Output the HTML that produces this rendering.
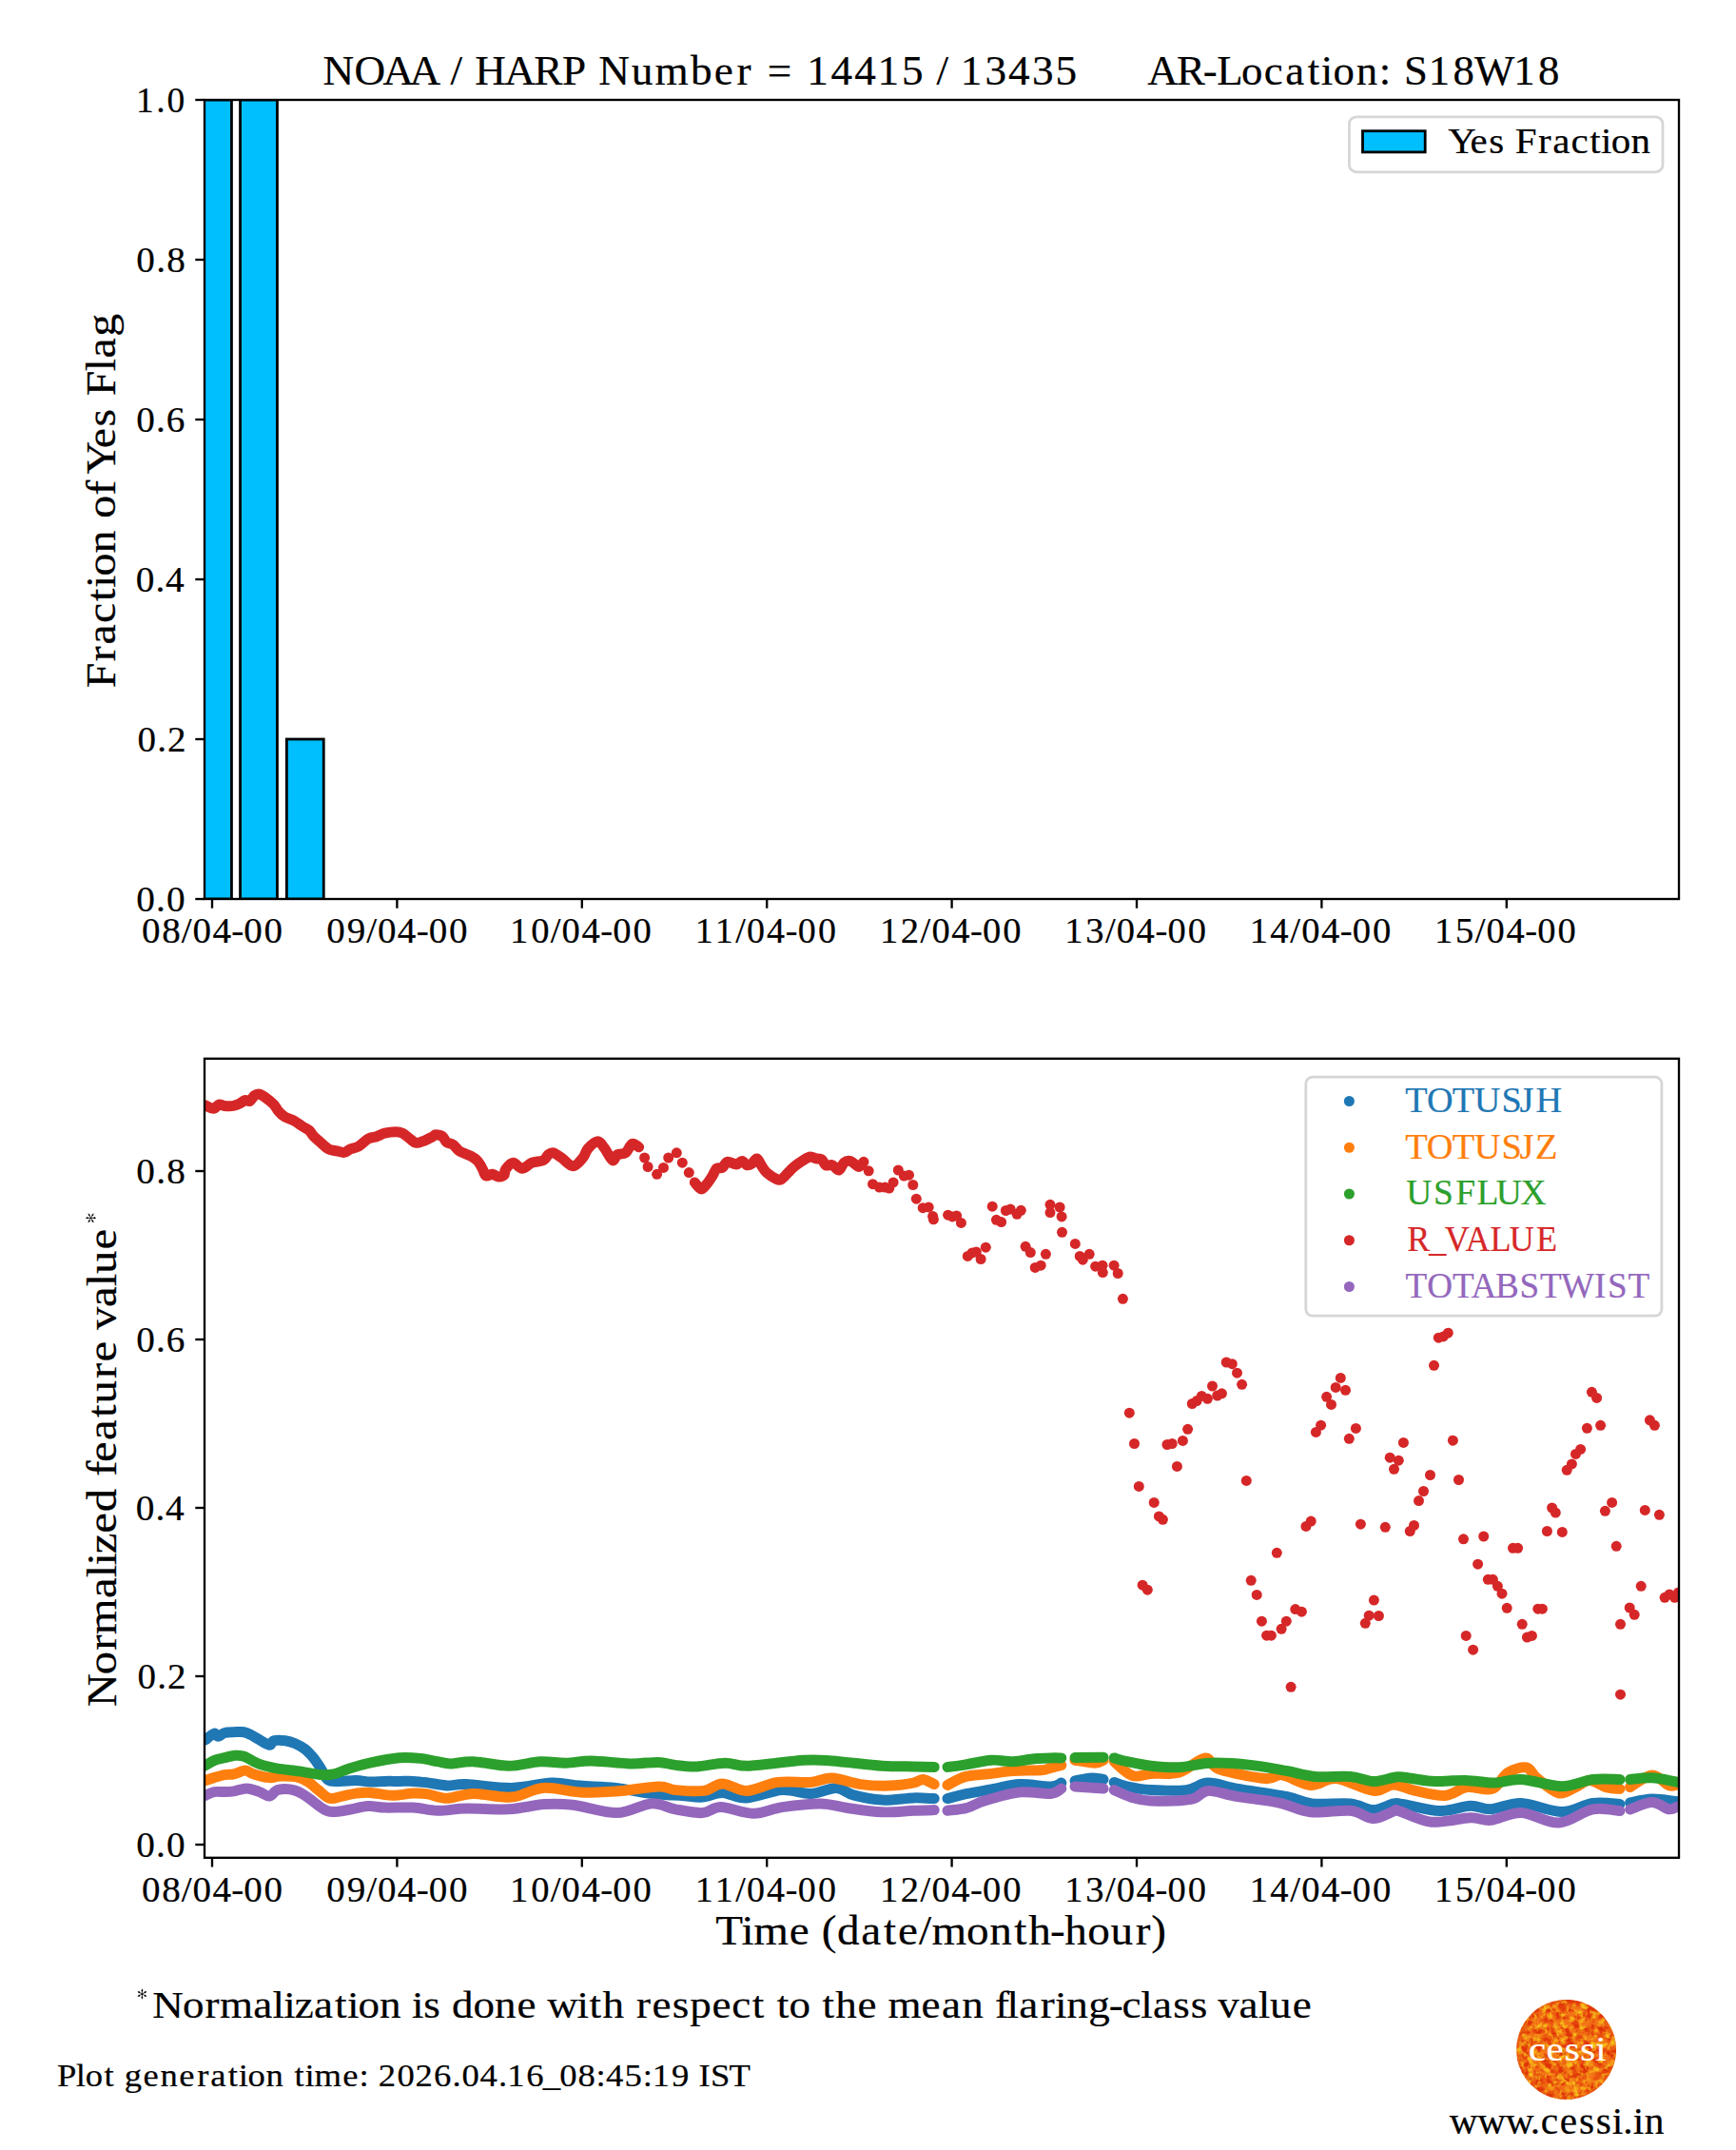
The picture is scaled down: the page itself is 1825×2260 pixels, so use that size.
<!DOCTYPE html>
<html><head><meta charset="utf-8"><title>NOAA / HARP 14415 / 13435</title>
<style>html,body{margin:0;padding:0;background:#fff;width:1825px;height:2260px;overflow:hidden}</style>
</head><body>
<svg width="1825" height="2260" viewBox="0 0 1825 2260" style="display:block">
<rect width="1825" height="2260" fill="#fff"/>
<defs>
<clipPath id="ax1"><rect x="215" y="105" width="1550" height="840"/></clipPath>
<clipPath id="ax2"><rect x="215" y="1112.8" width="1550" height="840"/></clipPath>
<clipPath id="sun"><circle cx="1646.6" cy="2154.5" r="52.4"/></clipPath>
<filter id="turbR" x="0" y="0" width="100%" height="100%" color-interpolation-filters="sRGB">
<feTurbulence type="fractalNoise" baseFrequency="0.13" numOctaves="4" seed="3"/>
<feColorMatrix type="matrix" values="0 0 0 0 0.88  0 0 0 0 0.20  0 0 0 0 0.03  4.0 0 0 0 -1.6"/>
</filter>
<filter id="turbY" x="0" y="0" width="100%" height="100%" color-interpolation-filters="sRGB">
<feTurbulence type="fractalNoise" baseFrequency="0.15" numOctaves="4" seed="11"/>
<feColorMatrix type="matrix" values="0 0 0 0 0.97  0 0 0 0 0.74  0 0 0 0 0.10  0 3.4 0 0 -1.55"/>
</filter>
<radialGradient id="sung" cx="50%" cy="50%" r="50%">
<stop offset="0" stop-color="#f47a16"/><stop offset="0.85" stop-color="#f27014"/><stop offset="1" stop-color="#e85a12"/>
</radialGradient>
</defs>
<g font-family="'Liberation Serif', serif" style="font-kerning:none" stroke-width="0.22">
<g clip-path="url(#ax1)">
<rect x="204.55" y="105.00" width="38.90" height="840.00" fill="#00bfff" stroke="#000" stroke-width="2.8"/>
<rect x="252.55" y="105.00" width="38.90" height="840.00" fill="#00bfff" stroke="#000" stroke-width="2.8"/>
<rect x="301.35" y="777.00" width="38.90" height="168.00" fill="#00bfff" stroke="#000" stroke-width="2.8"/>
</g>
<rect x="215" y="105" width="1550" height="840" fill="none" stroke="#000" stroke-width="2.35" stroke-linejoin="miter" stroke-linecap="square"/>
<line x1="223.00" y1="945" x2="223.00" y2="954.70" stroke="#000" stroke-width="2.35"/>
<text transform="translate(150.34,990.80) scale(1.0515,1)" x="-1.30 18.87 38.43 49.72 69.51 88.42 100.77 120.94" y="0" font-size="37.17" fill="#000" stroke="#000">08/04-00</text>
<line x1="417.40" y1="945" x2="417.40" y2="954.70" stroke="#000" stroke-width="2.35"/>
<text transform="translate(344.74,990.80) scale(1.0516,1)" x="-1.31 18.96 38.42 49.71 69.50 88.41 100.75 120.92" y="0" font-size="37.17" fill="#000" stroke="#000">09/04-00</text>
<line x1="611.80" y1="945" x2="611.80" y2="954.70" stroke="#000" stroke-width="2.35"/>
<text transform="translate(540.07,990.80) scale(1.0380,1)" x="-3.83 17.43 37.19 48.68 68.73 87.84 100.39 120.82" y="0" font-size="37.17" fill="#000" stroke="#000">10/04-00</text>
<line x1="806.20" y1="945" x2="806.20" y2="954.70" stroke="#000" stroke-width="2.35"/>
<text transform="translate(734.47,990.80) scale(1.0233,1)" x="-3.75 16.98 37.80 49.51 69.85 89.19 101.96 122.69" y="0" font-size="37.17" fill="#000" stroke="#000">11/04-00</text>
<line x1="1000.60" y1="945" x2="1000.60" y2="954.70" stroke="#000" stroke-width="2.35"/>
<text transform="translate(928.87,990.80) scale(1.0359,1)" x="-3.82 17.21 37.27 48.80 68.89 88.03 100.61 121.09" y="0" font-size="37.17" fill="#000" stroke="#000">12/04-00</text>
<line x1="1195.00" y1="945" x2="1195.00" y2="954.70" stroke="#000" stroke-width="2.35"/>
<text transform="translate(1123.27,990.80) scale(1.0363,1)" x="-3.83 17.35 37.26 48.77 68.85 87.99 100.57 121.03" y="0" font-size="37.17" fill="#000" stroke="#000">13/04-00</text>
<line x1="1389.40" y1="945" x2="1389.40" y2="954.70" stroke="#000" stroke-width="2.35"/>
<text transform="translate(1317.67,990.80) scale(1.0391,1)" x="-3.84 17.02 37.14 48.62 68.65 87.74 100.27 120.68" y="0" font-size="37.17" fill="#000" stroke="#000">14/04-00</text>
<line x1="1583.80" y1="945" x2="1583.80" y2="954.70" stroke="#000" stroke-width="2.35"/>
<text transform="translate(1512.07,990.80) scale(1.0364,1)" x="-3.83 17.25 37.25 48.77 68.85 87.99 100.56 121.02" y="0" font-size="37.17" fill="#000" stroke="#000">15/04-00</text>
<line x1="205.30" y1="945" x2="215" y2="945" stroke="#000" stroke-width="2.35"/>
<text transform="translate(144.70,957.90) scale(1.0565,1)" x="-1.34 18.37 28.76" y="0" font-size="37.17" fill="#000" stroke="#000">0.0</text>
<line x1="205.30" y1="777" x2="215" y2="777" stroke="#000" stroke-width="2.35"/>
<text transform="translate(145.76,789.90) scale(1.0501,1)" x="-1.29 18.51 28.73" y="0" font-size="37.17" fill="#000" stroke="#000">0.2</text>
<line x1="205.30" y1="609" x2="215" y2="609" stroke="#000" stroke-width="2.35"/>
<text transform="translate(144.16,621.90) scale(1.0591,1)" x="-1.36 18.31 28.29" y="0" font-size="37.17" fill="#000" stroke="#000">0.4</text>
<line x1="205.30" y1="441" x2="215" y2="441" stroke="#000" stroke-width="2.35"/>
<text transform="translate(144.59,453.90) scale(1.0550,1)" x="-1.33 18.40 28.64" y="0" font-size="37.17" fill="#000" stroke="#000">0.6</text>
<line x1="205.30" y1="273" x2="215" y2="273" stroke="#000" stroke-width="2.35"/>
<text transform="translate(144.73,285.90) scale(1.0547,1)" x="-1.33 18.41 28.83" y="0" font-size="37.17" fill="#000" stroke="#000">0.8</text>
<line x1="205.30" y1="105" x2="215" y2="105" stroke="#000" stroke-width="2.35"/>
<text transform="translate(146.57,117.90) scale(1.0090,1)" x="-3.66 17.60 28.70" y="0" font-size="37.17" fill="#000" stroke="#000">1.0</text>
<text transform="translate(120.80,721.80) rotate(-90) scale(1.1050,1)" x="-1.40 24.06 40.08 60.43 81.33 93.93 105.14 127.05 148.73 160.18 181.94 196.38 202.06 226.71 247.41 264.29 276.63 300.09 312.54 333.01" y="0" font-size="43.36" fill="#000" stroke="#000">Fraction of Yes Flag</text>
<text transform="translate(340.70,88.90) scale(1.0452,1)" x="-1.20 30.37 59.07 85.94 117.20 127.06 139.09 151.78 181.45 210.94 239.59 263.66 275.98 308.98 332.74 368.68 392.29 415.12 429.53 445.98 470.39 485.66 509.86 533.53 556.68 581.06 602.70 616.06 628.09 640.21 664.70 688.08 712.05 735.61" y="0" font-size="43.28" fill="#000" stroke="#000">NOAA / HARP Number = 14415 / 13435</text>
<text transform="translate(1208.00,88.90) scale(1.0345,1)" x="-1.81 27.98 54.80 68.90 93.82 116.81 138.56 161.29 174.75 187.05 210.47 233.79 245.82 258.96 283.94 308.82 330.56 370.41 395.30" y="0" font-size="43.28" fill="#000" stroke="#000">AR-Location: S18W18</text>
<rect x="1418.4" y="122.9" width="329.6" height="57.9" rx="7.5" ry="7.5" fill="#fff" fill-opacity="0.8" stroke="#d6d6d6" stroke-width="2.8"/>
<rect x="1432.5" y="137.7" width="65.7" height="22.2" fill="#00bfff" stroke="#000" stroke-width="2.8"/>
<text transform="translate(1525.40,160.80) scale(1.1021,1)" x="-2.87 18.30 36.09 50.55 61.21 83.08 96.85 114.33 132.29 143.12 152.76 171.59" y="0" font-size="37.17" fill="#000" stroke="#000">Yes Fraction</text>
<g clip-path="url(#ax2)" fill="none" stroke-linecap="round" stroke-linejoin="round">
<path d="M216.0,1828.9 C217.5,1827.8 222.8,1822.8 225.0,1822.2 C227.2,1821.6 227.6,1825.3 229.5,1825.2 C231.4,1825.1 233.5,1822.2 236.2,1821.5 C238.9,1820.8 242.5,1820.8 245.9,1820.7 C249.3,1820.6 253.4,1820.2 256.4,1820.7 C259.4,1821.2 261.1,1822.3 263.9,1823.7 C266.6,1825.1 269.6,1827.2 272.9,1828.9 C276.1,1830.7 280.9,1834.1 283.4,1834.2 C285.9,1834.3 285.1,1830.5 287.9,1829.7 C290.6,1829.0 296.2,1829.2 299.9,1829.7 C303.6,1830.2 306.8,1831.2 310.3,1832.7 C313.8,1834.2 317.8,1836.5 320.8,1838.7 C323.8,1841.0 326.3,1844.0 328.3,1846.2 C330.3,1848.5 331.3,1850.1 332.8,1852.2 C334.3,1854.3 335.3,1855.8 337.3,1858.9 C339.3,1862.0 341.6,1868.7 344.8,1870.9 C348.1,1873.2 351.8,1872.3 356.8,1872.4 C361.8,1872.5 369.2,1871.5 374.7,1871.6 C380.2,1871.7 384.7,1873.0 389.7,1873.1 C394.7,1873.2 399.7,1872.5 404.7,1872.4 C409.7,1872.3 414.7,1872.4 419.7,1872.4 C424.7,1872.4 429.6,1872.2 434.6,1872.4 C439.6,1872.7 443.7,1873.2 449.6,1873.9 C455.5,1874.7 463.3,1876.6 470.0,1876.9 C476.7,1877.2 478.7,1875.2 490.0,1875.6 C501.3,1876.0 522.9,1879.7 537.9,1879.4 C552.9,1879.2 567.8,1874.5 579.8,1874.1 C591.8,1873.7 598.6,1876.2 609.8,1877.1 C621.0,1878.0 634.7,1878.0 647.2,1879.4 C659.7,1880.8 674.6,1884.2 684.6,1885.4 C694.6,1886.7 701.2,1886.5 707.1,1886.9 C713.0,1887.3 714.8,1887.4 720.0,1887.8 C725.2,1888.2 731.9,1889.6 738.5,1889.1 C745.1,1888.6 751.7,1884.5 759.4,1884.6 C767.1,1884.7 774.4,1890.4 784.9,1889.9 C795.4,1889.4 811.1,1882.3 822.3,1881.6 C833.5,1880.8 842.8,1885.8 852.3,1885.4 C861.8,1885.0 871.7,1879.2 879.2,1879.4 C886.7,1879.7 889.2,1884.8 897.2,1886.9 C905.2,1889.0 916.7,1891.6 927.2,1892.1 C937.7,1892.6 950.8,1890.2 960.0,1889.9 C969.2,1889.7 978.5,1890.5 982.2,1890.6" stroke="#1f77b4" stroke-width="11.0"/>
<path d="M996.0,1890.6 C999.5,1889.7 1009.2,1887.0 1016.9,1885.4 C1024.6,1883.8 1033.2,1882.5 1042.4,1880.9 C1051.6,1879.3 1062.0,1876.1 1072.3,1875.6 C1082.6,1875.1 1097.2,1878.2 1104.5,1877.9 C1111.8,1877.7 1113.9,1874.7 1115.8,1874.1" stroke="#1f77b4" stroke-width="11.0"/>
<path d="M1130.0,1871.9 C1132.9,1871.4 1142.2,1869.2 1147.2,1868.9 C1152.2,1868.7 1157.9,1870.2 1160.0,1870.4" stroke="#1f77b4" stroke-width="11.0"/>
<path d="M1171.2,1873.4 C1173.4,1874.2 1178.1,1876.5 1184.6,1877.9 C1191.1,1879.3 1199.5,1881.0 1210.0,1881.6 C1220.5,1882.2 1237.4,1882.8 1247.4,1881.6 C1257.4,1880.3 1261.2,1874.3 1269.9,1874.1 C1278.7,1873.8 1286.2,1877.7 1299.9,1880.1 C1313.6,1882.5 1339.1,1885.8 1352.3,1888.4 C1365.5,1891.0 1368.0,1894.7 1379.2,1895.9 C1390.4,1897.2 1409.0,1894.8 1419.7,1895.9 C1430.4,1897.0 1436.0,1902.6 1443.6,1902.6 C1451.1,1902.6 1459.9,1897.0 1465.0,1896.0 C1470.1,1895.0 1466.2,1895.1 1474.3,1896.4 C1482.4,1897.7 1501.7,1903.3 1513.6,1903.6 C1525.5,1903.9 1536.8,1898.5 1545.7,1898.2 C1554.6,1897.9 1558.2,1902.2 1567.1,1901.8 C1576.0,1901.3 1586.8,1895.0 1599.3,1895.5 C1611.8,1896.0 1629.6,1904.5 1642.1,1904.5 C1654.6,1904.5 1664.2,1896.8 1674.3,1895.5 C1684.4,1894.2 1698.1,1896.2 1702.9,1896.4" stroke="#1f77b4" stroke-width="11.0"/>
<path d="M1713.6,1895.0 C1717.5,1894.3 1728.5,1891.3 1736.8,1891.1 C1745.1,1890.9 1758.1,1893.3 1763.6,1893.8 C1769.1,1894.3 1768.9,1894.0 1770.0,1894.0" stroke="#1f77b4" stroke-width="11.0"/>
<path d="M216.0,1871.6 C217.5,1871.1 221.6,1869.6 225.0,1868.6 C228.4,1867.6 232.7,1866.2 236.2,1865.6 C239.7,1865.0 242.3,1865.7 245.9,1864.9 C249.5,1864.2 254.4,1861.1 257.9,1861.1 C261.4,1861.1 262.6,1863.7 266.9,1864.9 C271.1,1866.2 278.9,1868.2 283.4,1868.6 C287.9,1869.0 289.2,1867.2 293.9,1867.1 C298.6,1867.0 306.8,1866.9 311.8,1867.9 C316.8,1868.9 320.1,1870.8 323.8,1873.1 C327.6,1875.3 330.6,1878.5 334.3,1881.4 C338.1,1884.3 342.1,1889.2 346.3,1890.3 C350.6,1891.4 355.1,1889.0 359.8,1888.1 C364.5,1887.2 369.7,1885.7 374.7,1885.1 C379.7,1884.5 383.4,1884.0 389.7,1884.4 C395.9,1884.8 404.7,1887.2 412.2,1887.3 C419.7,1887.4 428.4,1885.3 434.6,1885.1 C440.8,1884.9 443.7,1885.0 449.6,1885.9 C455.5,1886.8 462.0,1890.4 470.0,1890.3 C478.0,1890.2 486.1,1885.6 497.4,1885.4 C508.7,1885.2 525.7,1890.1 537.9,1889.1 C550.1,1888.1 558.8,1880.3 570.8,1879.4 C582.8,1878.5 597.1,1883.3 609.8,1883.9 C622.5,1884.5 633.5,1884.1 647.2,1883.1 C660.9,1882.1 681.6,1878.2 692.1,1877.9 C702.6,1877.7 702.0,1880.8 710.0,1881.6 C718.0,1882.3 731.8,1883.5 740.0,1882.4 C748.2,1881.3 751.9,1874.9 759.4,1874.9 C766.9,1874.9 775.2,1882.7 784.9,1882.4 C794.6,1882.2 806.6,1874.9 817.8,1873.4 C829.0,1871.9 842.8,1874.2 852.3,1873.4 C861.8,1872.7 866.0,1868.5 874.7,1868.9 C883.4,1869.3 894.7,1874.2 904.7,1875.6 C914.7,1877.0 925.4,1877.3 934.6,1877.1 C943.8,1876.8 954.0,1875.2 960.0,1874.1 C966.0,1873.0 966.8,1870.2 970.5,1870.4 C974.2,1870.7 980.2,1874.7 982.2,1875.6" stroke="#ff7f0e" stroke-width="11.0"/>
<path d="M996.0,1876.4 C999.2,1874.9 1007.7,1869.4 1015.4,1867.4 C1023.1,1865.4 1034.2,1865.4 1042.4,1864.4 C1050.6,1863.4 1056.1,1862.0 1064.8,1861.4 C1073.5,1860.8 1088.2,1861.2 1094.8,1860.7 C1101.4,1860.2 1101.0,1859.3 1104.5,1858.4 C1108.0,1857.5 1113.9,1855.9 1115.8,1855.4" stroke="#ff7f0e" stroke-width="11.0"/>
<path d="M1130.0,1850.2 C1133.5,1850.7 1145.9,1853.2 1150.9,1853.2 C1155.9,1853.2 1158.5,1850.7 1160.0,1850.2" stroke="#ff7f0e" stroke-width="11.0"/>
<path d="M1171.2,1851.7 C1174.4,1854.2 1184.1,1864.5 1190.6,1866.6 C1197.1,1868.7 1201.8,1865.0 1210.0,1864.4 C1218.2,1863.8 1230.5,1865.7 1240.0,1862.9 C1249.5,1860.2 1259.9,1848.4 1266.9,1847.9 C1273.9,1847.4 1271.4,1856.3 1281.9,1859.9 C1292.4,1863.5 1318.8,1868.6 1329.8,1869.6 C1340.8,1870.6 1339.8,1864.8 1347.8,1865.9 C1355.8,1867.0 1368.2,1875.8 1377.7,1876.4 C1387.2,1877.0 1393.7,1868.6 1404.7,1869.6 C1415.7,1870.6 1433.5,1881.3 1443.6,1882.4 C1453.6,1883.5 1457.8,1876.0 1465.0,1876.0 C1472.2,1876.0 1477.8,1880.2 1486.8,1882.1 C1495.8,1884.0 1509.7,1888.1 1518.9,1887.5 C1528.1,1886.9 1533.8,1879.8 1542.1,1878.6 C1550.4,1877.4 1561.8,1882.9 1568.9,1880.4 C1576.1,1877.9 1579.0,1867.1 1585.0,1863.4 C1591.0,1859.7 1599.5,1857.1 1604.6,1858.0 C1609.7,1858.9 1609.7,1864.3 1615.4,1868.8 C1621.1,1873.3 1631.8,1883.2 1638.6,1884.8 C1645.4,1886.4 1651.1,1880.8 1656.4,1878.6 C1661.8,1876.4 1665.3,1871.4 1670.7,1871.4 C1676.1,1871.4 1683.2,1877.1 1688.6,1878.6 C1694.0,1880.1 1700.5,1880.1 1702.9,1880.4" stroke="#ff7f0e" stroke-width="11.0"/>
<path d="M1713.6,1878.6 C1717.5,1876.5 1730.0,1866.4 1736.8,1866.1 C1743.6,1865.8 1750.1,1875.2 1754.6,1876.8 C1759.1,1878.4 1761.0,1876.0 1763.6,1875.9 C1766.2,1875.8 1768.9,1876.0 1770.0,1876.0" stroke="#ff7f0e" stroke-width="11.0"/>
<path d="M216.0,1855.9 C217.5,1855.0 221.6,1852.1 225.0,1850.7 C228.4,1849.3 232.7,1848.6 236.2,1847.7 C239.7,1846.8 242.5,1845.7 245.9,1845.4 C249.3,1845.2 251.9,1844.7 256.4,1846.2 C260.9,1847.7 267.1,1852.3 272.9,1854.4 C278.6,1856.5 283.9,1857.7 290.9,1858.9 C297.9,1860.2 307.1,1860.8 314.8,1861.9 C322.5,1863.0 331.3,1865.1 337.3,1865.6 C343.3,1866.1 345.8,1866.0 350.8,1864.9 C355.8,1863.8 360.8,1860.9 367.3,1858.9 C373.8,1856.9 381.0,1854.8 389.7,1852.9 C398.4,1851.0 411.0,1848.5 419.7,1847.7 C428.4,1847.0 435.4,1847.7 442.1,1848.4 C448.8,1849.1 454.8,1850.8 460.0,1851.7 C465.2,1852.6 467.3,1853.9 473.5,1853.9 C479.7,1853.9 487.2,1851.3 497.4,1851.7 C507.6,1852.1 523.2,1856.2 534.9,1856.2 C546.6,1856.2 557.8,1852.2 567.8,1851.7 C577.8,1851.2 585.8,1853.3 594.8,1853.2 C603.8,1853.1 610.6,1850.8 621.8,1850.9 C633.0,1851.0 650.5,1853.7 662.2,1853.9 C673.9,1854.2 684.1,1852.2 692.1,1852.4 C700.1,1852.7 703.3,1854.7 710.0,1855.4 C716.7,1856.2 723.8,1857.3 732.5,1856.9 C741.2,1856.5 753.2,1853.3 762.4,1853.2 C771.6,1853.1 774.2,1856.7 787.9,1856.2 C801.6,1855.7 830.3,1851.1 844.8,1850.2 C859.3,1849.3 861.0,1849.9 874.7,1850.9 C888.4,1851.9 913.0,1855.2 927.2,1856.2 C941.4,1857.2 950.8,1856.7 960.0,1856.9 C969.2,1857.1 978.5,1857.3 982.2,1857.4" stroke="#2ca02c" stroke-width="11.0"/>
<path d="M996.0,1857.4 C998.7,1857.1 1004.7,1856.6 1012.4,1855.4 C1020.1,1854.2 1033.7,1850.8 1042.4,1850.2 C1051.1,1849.6 1057.3,1852.0 1064.8,1851.7 C1072.3,1851.5 1080.7,1849.3 1087.3,1848.7 C1093.9,1848.1 1099.8,1848.0 1104.5,1847.9 C1109.2,1847.8 1113.9,1847.9 1115.8,1847.9" stroke="#2ca02c" stroke-width="11.0"/>
<path d="M1130.0,1847.6 L1160.0,1847.2" stroke="#2ca02c" stroke-width="11.0"/>
<path d="M1171.2,1847.9 C1173.4,1848.5 1178.1,1850.3 1184.6,1851.7 C1191.1,1853.1 1200.8,1855.2 1210.0,1856.2 C1219.2,1857.2 1229.5,1858.2 1240.0,1857.7 C1250.5,1857.2 1260.4,1853.6 1272.9,1853.2 C1285.4,1852.8 1301.6,1854.0 1314.8,1855.4 C1328.0,1856.8 1341.1,1859.4 1352.3,1861.4 C1363.5,1863.4 1371.0,1866.4 1382.2,1867.4 C1393.4,1868.4 1409.5,1866.5 1419.7,1867.4 C1429.9,1868.3 1436.0,1872.4 1443.6,1872.6 C1451.1,1872.8 1459.9,1869.3 1465.0,1868.5 C1470.1,1867.7 1467.7,1867.3 1474.3,1867.9 C1480.9,1868.5 1493.6,1871.7 1504.6,1872.3 C1515.6,1872.9 1529.4,1871.1 1540.4,1871.4 C1551.4,1871.7 1560.9,1874.2 1570.7,1874.1 C1580.5,1873.9 1587.4,1869.9 1599.3,1870.5 C1611.2,1871.1 1629.6,1877.7 1642.1,1877.7 C1654.6,1877.7 1664.2,1871.7 1674.3,1870.5 C1684.4,1869.3 1698.1,1870.5 1702.9,1870.5" stroke="#2ca02c" stroke-width="11.0"/>
<path d="M1713.6,1870.5 C1717.5,1870.2 1728.5,1868.3 1736.8,1868.8 C1745.1,1869.2 1758.1,1872.4 1763.6,1873.2 C1769.1,1874.0 1768.9,1873.5 1770.0,1873.5" stroke="#2ca02c" stroke-width="11.0"/>
<path d="M215.8,1161.7 C217.2,1162.3 222.0,1165.4 224.4,1165.3 C226.8,1165.2 228.3,1161.5 230.2,1161.0 C232.1,1160.5 233.4,1162.2 235.9,1162.4 C238.4,1162.6 242.7,1162.8 245.3,1162.4 C248.0,1162.0 249.8,1161.2 251.8,1160.2 C253.8,1159.2 255.7,1157.1 257.5,1156.6 C259.3,1156.1 260.9,1158.2 262.6,1157.4 C264.3,1156.6 265.9,1152.8 267.6,1151.6 C269.3,1150.4 270.7,1149.8 272.6,1150.2 C274.5,1150.6 276.6,1152.0 279.1,1153.8 C281.6,1155.6 285.5,1158.6 287.8,1161.0 C290.1,1163.4 290.9,1166.0 292.8,1168.2 C294.7,1170.4 296.5,1172.2 299.3,1173.9 C302.1,1175.6 306.3,1176.5 309.4,1178.2 C312.5,1179.9 315.4,1182.3 318.0,1184.0 C320.6,1185.7 323.3,1186.6 325.2,1188.3 C327.1,1190.0 327.6,1192.0 329.5,1194.1 C331.4,1196.1 334.1,1198.3 336.7,1200.6 C339.3,1202.9 342.5,1206.2 345.4,1207.8 C348.3,1209.3 351.2,1209.3 354.0,1209.9 C356.8,1210.5 359.5,1211.8 361.9,1211.4 C364.3,1211.1 365.9,1208.9 368.4,1207.8 C370.9,1206.7 373.9,1206.7 377.0,1204.9 C380.1,1203.1 384.0,1198.7 387.1,1197.0 C390.2,1195.3 392.9,1195.8 395.8,1194.8 C398.7,1193.8 401.0,1192.0 404.4,1191.2 C407.8,1190.4 412.8,1189.8 415.9,1189.8 C419.0,1189.8 420.5,1189.9 423.1,1191.2 C425.8,1192.5 429.4,1196.0 431.8,1197.7 C434.2,1199.4 435.1,1201.1 437.5,1201.3 C439.9,1201.5 443.3,1200.2 446.2,1199.1 C449.1,1198.0 452.8,1195.8 454.8,1194.8 C456.8,1193.8 456.4,1192.8 458.1,1192.8 C459.8,1192.8 463.2,1193.3 465.1,1194.6 C467.0,1195.9 467.5,1199.2 469.4,1200.6 C471.3,1202.0 474.0,1201.6 476.3,1203.2 C478.6,1204.8 480.0,1208.1 483.2,1210.1 C486.4,1212.1 492.1,1213.6 495.3,1215.3 C498.5,1217.0 500.2,1218.2 502.2,1220.5 C504.2,1222.8 506.0,1226.5 507.4,1229.1 C508.8,1231.7 509.1,1235.1 510.8,1236.0 C512.5,1236.9 515.6,1234.1 517.8,1234.3 C520.0,1234.5 521.8,1236.8 523.8,1236.9 C525.8,1237.1 528.6,1236.5 529.9,1235.2 C531.2,1233.9 530.0,1231.3 531.6,1229.1 C533.2,1226.9 536.5,1222.3 539.4,1222.2 C542.3,1222.1 545.6,1228.3 548.9,1228.3 C552.2,1228.3 555.5,1223.7 559.2,1222.2 C562.9,1220.8 568.4,1221.0 571.3,1219.6 C574.2,1218.2 574.8,1214.9 576.5,1213.6 C578.2,1212.3 579.4,1211.2 581.7,1211.8 C584.0,1212.4 586.8,1214.7 590.3,1217.0 C593.8,1219.3 598.6,1225.7 602.4,1225.7 C606.1,1225.7 610.2,1220.0 612.8,1217.0 C615.4,1214.0 615.4,1210.4 618.0,1207.5 C620.6,1204.6 625.5,1199.8 628.4,1199.7 C631.3,1199.6 632.7,1203.4 635.3,1206.7 C637.9,1210.0 641.6,1218.4 643.9,1219.6 C646.2,1220.8 646.8,1214.9 649.1,1213.6 C651.4,1212.3 655.1,1213.7 657.7,1211.8 C660.3,1209.9 662.3,1203.3 664.6,1202.3 C666.9,1201.3 670.4,1205.2 671.6,1205.8" stroke="#d62728" stroke-width="11.0"/>
<path d="M730.3,1242.9 C731.4,1244.1 735.1,1249.6 737.2,1249.9 C739.3,1250.2 741.0,1247.0 743.0,1244.7 C745.0,1242.4 747.3,1238.7 749.0,1236.0 C750.7,1233.3 751.6,1229.7 753.3,1228.3 C755.0,1226.9 757.5,1228.6 759.4,1227.4 C761.3,1226.2 762.1,1221.9 764.6,1221.3 C767.1,1220.7 771.5,1224.1 774.1,1224.0 C776.7,1223.9 778.2,1220.4 780.1,1220.5 C782.0,1220.6 783.6,1224.4 785.3,1224.8 C787.0,1225.2 788.8,1224.2 790.5,1223.1 C792.2,1221.9 794.0,1217.5 795.7,1217.9 C797.4,1218.3 799.1,1223.2 800.8,1225.7 C802.5,1228.2 803.4,1230.3 806.0,1232.6 C808.6,1234.9 813.8,1238.3 816.4,1239.5 C819.0,1240.7 819.6,1240.7 821.6,1239.5 C823.6,1238.3 826.5,1234.6 828.5,1232.6 C830.5,1230.6 831.7,1229.1 833.7,1227.4 C835.7,1225.7 837.7,1224.1 840.6,1222.2 C843.5,1220.3 848.1,1216.9 851.0,1216.2 C853.9,1215.5 855.8,1217.5 857.9,1217.9 C860.0,1218.3 862.2,1217.7 863.9,1218.8 C865.6,1219.9 866.3,1223.8 868.2,1224.8 C870.1,1225.8 872.9,1223.9 875.2,1224.8 C877.5,1225.7 880.1,1230.4 882.1,1230.0 C884.1,1229.6 885.2,1223.8 887.2,1222.2 C889.2,1220.6 891.6,1219.8 894.2,1220.5 C896.8,1221.2 900.5,1226.4 902.8,1226.5 C905.1,1226.6 907.1,1222.2 908.0,1221.3" stroke="#d62728" stroke-width="11.0"/>
<g fill="#d62728" stroke="none"><circle cx="677.6" cy="1217.0" r="5.50"/><circle cx="681.1" cy="1226.5" r="5.50"/><circle cx="690.6" cy="1234.3" r="5.50"/><circle cx="697.5" cy="1227.4" r="5.50"/><circle cx="702.7" cy="1217.0" r="5.50"/><circle cx="711.3" cy="1211.8" r="5.50"/><circle cx="717.3" cy="1222.2" r="5.50"/><circle cx="724.3" cy="1232.6" r="5.50"/><circle cx="913.2" cy="1230.8" r="5.50"/><circle cx="917.5" cy="1244.7" r="5.50"/><circle cx="924.4" cy="1248.1" r="5.50"/><circle cx="930.4" cy="1248.1" r="5.50"/><circle cx="934.8" cy="1249.0" r="5.50"/><circle cx="939.1" cy="1242.9" r="5.50"/><circle cx="944.3" cy="1230.0" r="5.50"/><circle cx="950.3" cy="1236.0" r="5.50"/><circle cx="955.5" cy="1235.2" r="5.50"/><circle cx="959.8" cy="1245.5" r="5.50"/><circle cx="963.3" cy="1260.2" r="5.50"/><circle cx="970.2" cy="1269.7" r="5.50"/><circle cx="976.2" cy="1268.9" r="5.50"/><circle cx="980.6" cy="1278.4" r="5.50"/><circle cx="981.4" cy="1281.8" r="5.50"/><circle cx="996.6" cy="1277.2" r="5.50"/><circle cx="1001.2" cy="1278.9" r="5.50"/><circle cx="1005.6" cy="1278.0" r="5.50"/><circle cx="1010.4" cy="1285.4" r="5.50"/><circle cx="1017.3" cy="1320.4" r="5.50"/><circle cx="1022.0" cy="1316.9" r="5.50"/><circle cx="1026.3" cy="1316.0" r="5.50"/><circle cx="1031.1" cy="1323.5" r="5.50"/><circle cx="1036.3" cy="1311.2" r="5.50"/><circle cx="1043.2" cy="1268.2" r="5.50"/><circle cx="1047.4" cy="1282.3" r="5.50"/><circle cx="1052.6" cy="1284.6" r="5.50"/><circle cx="1057.4" cy="1272.5" r="5.50"/><circle cx="1062.2" cy="1271.1" r="5.50"/><circle cx="1069.1" cy="1276.3" r="5.50"/><circle cx="1073.3" cy="1272.3" r="5.50"/><circle cx="1078.1" cy="1310.3" r="5.50"/><circle cx="1083.3" cy="1316.6" r="5.50"/><circle cx="1088.2" cy="1332.4" r="5.50"/><circle cx="1094.2" cy="1330.2" r="5.50"/><circle cx="1099.4" cy="1318.3" r="5.50"/><circle cx="1104.0" cy="1266.3" r="5.50"/><circle cx="1104.0" cy="1274.6" r="5.50"/><circle cx="1114.1" cy="1269.0" r="5.50"/><circle cx="1116.1" cy="1278.9" r="5.50"/><circle cx="1116.5" cy="1295.3" r="5.50"/><circle cx="1130.3" cy="1307.4" r="5.50"/><circle cx="1135.2" cy="1320.4" r="5.50"/><circle cx="1138.3" cy="1324.2" r="5.50"/><circle cx="1145.2" cy="1318.3" r="5.50"/><circle cx="1151.6" cy="1331.2" r="5.50"/><circle cx="1159.0" cy="1330.2" r="5.50"/><circle cx="1159.3" cy="1337.6" r="5.50"/><circle cx="1171.1" cy="1330.2" r="5.50"/><circle cx="1175.2" cy="1338.5" r="5.50"/><circle cx="1180.4" cy="1365.3" r="5.50"/><circle cx="1187.3" cy="1485.2" r="5.50"/><circle cx="1192.5" cy="1517.5" r="5.50"/><circle cx="1197.3" cy="1562.4" r="5.50"/><circle cx="1201.1" cy="1666.2" r="5.50"/><circle cx="1206.3" cy="1671.2" r="5.50"/><circle cx="1213.2" cy="1579.4" r="5.50"/><circle cx="1218.4" cy="1593.9" r="5.50"/><circle cx="1222.4" cy="1597.3" r="5.50"/><circle cx="1227.0" cy="1518.5" r="5.50"/><circle cx="1232.2" cy="1517.5" r="5.50"/><circle cx="1237.4" cy="1541.4" r="5.50"/><circle cx="1243.4" cy="1514.4" r="5.50"/><circle cx="1248.6" cy="1502.3" r="5.50"/><circle cx="1253.3" cy="1475.5" r="5.50"/><circle cx="1258.1" cy="1472.6" r="5.50"/><circle cx="1263.3" cy="1467.4" r="5.50"/><circle cx="1269.4" cy="1470.3" r="5.50"/><circle cx="1274.5" cy="1457.0" r="5.50"/><circle cx="1279.7" cy="1467.0" r="5.50"/><circle cx="1284.4" cy="1464.8" r="5.50"/><circle cx="1289.2" cy="1432.0" r="5.50"/><circle cx="1295.3" cy="1433.7" r="5.50"/><circle cx="1300.5" cy="1443.2" r="5.50"/><circle cx="1305.6" cy="1455.3" r="5.50"/><circle cx="1310.3" cy="1556.4" r="5.50"/><circle cx="1315.2" cy="1661.3" r="5.50"/><circle cx="1321.2" cy="1676.4" r="5.50"/><circle cx="1326.4" cy="1704.2" r="5.50"/><circle cx="1331.6" cy="1719.2" r="5.50"/><circle cx="1336.4" cy="1719.2" r="5.50"/><circle cx="1342.3" cy="1632.3" r="5.50"/><circle cx="1347.1" cy="1712.3" r="5.50"/><circle cx="1352.3" cy="1704.2" r="5.50"/><circle cx="1357.1" cy="1773.3" r="5.50"/><circle cx="1361.8" cy="1691.6" r="5.50"/><circle cx="1368.4" cy="1694.2" r="5.50"/><circle cx="1373.0" cy="1604.4" r="5.50"/><circle cx="1378.2" cy="1599.1" r="5.50"/><circle cx="1383.4" cy="1505.4" r="5.50"/><circle cx="1388.6" cy="1498.2" r="5.50"/><circle cx="1394.6" cy="1468.3" r="5.50"/><circle cx="1399.5" cy="1476.4" r="5.50"/><circle cx="1404.2" cy="1458.4" r="5.50"/><circle cx="1409.3" cy="1448.4" r="5.50"/><circle cx="1414.5" cy="1461.3" r="5.50"/><circle cx="1418.3" cy="1512.3" r="5.50"/><circle cx="1425.4" cy="1501.4" r="5.50"/><circle cx="1430.4" cy="1602.2" r="5.50"/><circle cx="1435.3" cy="1706.3" r="5.50"/><circle cx="1439.2" cy="1698.2" r="5.50"/><circle cx="1444.4" cy="1682.1" r="5.50"/><circle cx="1449.4" cy="1698.5" r="5.50"/><circle cx="1456.3" cy="1605.3" r="5.50"/><circle cx="1461.2" cy="1532.2" r="5.50"/><circle cx="1465.5" cy="1544.3" r="5.50"/><circle cx="1470.3" cy="1535.2" r="5.50"/><circle cx="1475.4" cy="1516.4" r="5.50"/><circle cx="1482.3" cy="1609.5" r="5.50"/><circle cx="1486.5" cy="1603.4" r="5.50"/><circle cx="1491.5" cy="1577.6" r="5.50"/><circle cx="1496.5" cy="1567.5" r="5.50"/><circle cx="1503.5" cy="1550.5" r="5.50"/><circle cx="1507.5" cy="1435.3" r="5.50"/><circle cx="1512.3" cy="1406.2" r="5.50"/><circle cx="1517.3" cy="1404.9" r="5.50"/><circle cx="1522.3" cy="1401.2" r="5.50"/><circle cx="1527.4" cy="1514.2" r="5.50"/><circle cx="1533.5" cy="1555.5" r="5.50"/><circle cx="1538.5" cy="1617.8" r="5.50"/><circle cx="1541.2" cy="1719.4" r="5.50"/><circle cx="1548.6" cy="1734.2" r="5.50"/><circle cx="1553.6" cy="1644.2" r="5.50"/><circle cx="1559.7" cy="1615.0" r="5.50"/><circle cx="1564.3" cy="1660.3" r="5.50"/><circle cx="1569.4" cy="1660.3" r="5.50"/><circle cx="1574.4" cy="1667.3" r="5.50"/><circle cx="1579.0" cy="1675.2" r="5.50"/><circle cx="1584.2" cy="1690.3" r="5.50"/><circle cx="1590.5" cy="1627.3" r="5.50"/><circle cx="1595.6" cy="1627.3" r="5.50"/><circle cx="1600.2" cy="1707.3" r="5.50"/><circle cx="1605.4" cy="1721.1" r="5.50"/><circle cx="1610.4" cy="1719.4" r="5.50"/><circle cx="1616.8" cy="1691.2" r="5.50"/><circle cx="1621.4" cy="1691.2" r="5.50"/><circle cx="1626.4" cy="1609.5" r="5.50"/><circle cx="1631.6" cy="1585.0" r="5.50"/><circle cx="1635.3" cy="1590.1" r="5.50"/><circle cx="1642.3" cy="1610.4" r="5.50"/><circle cx="1647.2" cy="1545.3" r="5.50"/><circle cx="1652.4" cy="1538.9" r="5.50"/><circle cx="1656.5" cy="1528.4" r="5.50"/><circle cx="1661.6" cy="1523.4" r="5.50"/><circle cx="1668.4" cy="1501.3" r="5.50"/><circle cx="1673.4" cy="1463.3" r="5.50"/><circle cx="1678.6" cy="1469.4" r="5.50"/><circle cx="1682.6" cy="1498.3" r="5.50"/><circle cx="1687.4" cy="1588.3" r="5.50"/><circle cx="1694.6" cy="1579.4" r="5.50"/><circle cx="1699.2" cy="1625.3" r="5.50"/><circle cx="1703.5" cy="1707.3" r="5.50"/><circle cx="1703.5" cy="1781.2" r="5.50"/><circle cx="1713.2" cy="1690.0" r="5.50"/><circle cx="1718.2" cy="1697.3" r="5.50"/><circle cx="1725.2" cy="1667.3" r="5.50"/><circle cx="1729.3" cy="1587.4" r="5.50"/><circle cx="1734.4" cy="1492.8" r="5.50"/><circle cx="1739.4" cy="1498.3" r="5.50"/><circle cx="1744.4" cy="1592.3" r="5.50"/><circle cx="1750.1" cy="1679.3" r="5.50"/><circle cx="1755.1" cy="1676.0" r="5.50"/><circle cx="1760.6" cy="1679.3" r="5.50"/><circle cx="1764.5" cy="1674.0" r="5.50"/></g>
<path d="M216.0,1887.3 C217.5,1886.7 221.6,1884.2 225.0,1883.6 C228.4,1883.0 232.7,1883.7 236.2,1883.6 C239.7,1883.5 242.0,1883.5 245.9,1882.9 C249.8,1882.3 254.9,1879.8 259.4,1879.9 C263.9,1880.0 268.9,1882.2 272.9,1883.6 C276.9,1885.0 280.1,1888.5 283.4,1888.1 C286.6,1887.7 287.9,1882.4 292.4,1881.4 C296.9,1880.4 305.1,1880.7 310.3,1882.1 C315.5,1883.5 319.1,1886.5 323.8,1889.6 C328.6,1892.7 334.6,1898.3 338.8,1900.8 C343.1,1903.3 344.6,1904.3 349.3,1904.6 C354.1,1904.8 361.1,1903.3 367.3,1902.3 C373.5,1901.3 380.5,1899.0 386.7,1898.6 C392.9,1898.2 396.7,1899.8 404.7,1900.1 C412.7,1900.3 425.4,1899.6 434.6,1900.1 C443.8,1900.6 450.8,1903.1 460.0,1903.3 C469.2,1903.5 477.5,1901.3 490.0,1901.1 C502.5,1900.8 521.2,1902.5 534.9,1901.8 C548.6,1901.0 561.1,1897.3 572.3,1896.6 C583.5,1895.8 589.6,1895.8 602.3,1897.3 C615.0,1898.8 635.0,1905.8 648.7,1905.6 C662.4,1905.4 674.4,1896.5 684.6,1895.9 C694.8,1895.3 701.0,1900.2 710.0,1901.8 C719.0,1903.4 730.5,1906.0 738.5,1905.6 C746.5,1905.2 748.9,1899.5 757.9,1899.6 C766.9,1899.7 781.7,1906.3 792.4,1906.3 C803.1,1906.3 810.6,1901.3 822.3,1899.6 C834.0,1897.9 851.6,1895.8 862.8,1895.9 C874.0,1896.0 879.0,1898.8 889.7,1900.3 C900.4,1901.8 915.5,1904.3 927.2,1904.8 C938.9,1905.3 950.8,1903.7 960.0,1903.3 C969.2,1902.9 978.5,1902.7 982.2,1902.6" stroke="#9467bd" stroke-width="11.0"/>
<path d="M996.0,1903.3 C999.5,1902.8 1010.4,1902.0 1016.9,1900.3 C1023.4,1898.6 1025.7,1895.6 1034.9,1892.9 C1044.1,1890.2 1060.7,1885.2 1072.3,1883.9 C1083.9,1882.7 1097.2,1886.0 1104.5,1885.4 C1111.8,1884.8 1113.9,1881.0 1115.8,1880.1" stroke="#9467bd" stroke-width="11.0"/>
<path d="M1130.0,1877.9 L1160.0,1880.1" stroke="#9467bd" stroke-width="11.0"/>
<path d="M1171.2,1881.6 C1174.2,1882.8 1182.6,1887.2 1189.1,1889.1 C1195.6,1891.0 1199.5,1892.5 1210.0,1892.9 C1220.5,1893.3 1241.9,1893.2 1251.9,1891.4 C1261.9,1889.7 1261.9,1882.9 1269.9,1882.4 C1277.9,1881.9 1287.4,1886.3 1299.9,1888.4 C1312.4,1890.5 1331.8,1892.4 1344.8,1895.1 C1357.8,1897.8 1365.2,1903.4 1377.7,1904.8 C1390.2,1906.2 1408.7,1902.2 1419.7,1903.3 C1430.7,1904.4 1436.0,1911.5 1443.6,1911.6 C1451.1,1911.7 1460.5,1905.3 1465.0,1904.0 C1469.5,1902.7 1464.1,1901.7 1470.7,1903.6 C1477.3,1905.5 1492.1,1914.0 1504.6,1915.2 C1517.1,1916.4 1535.3,1911.0 1545.7,1910.7 C1556.1,1910.4 1558.2,1914.3 1567.1,1913.4 C1576.0,1912.5 1587.4,1905.0 1599.3,1905.4 C1611.2,1905.9 1626.1,1916.7 1638.6,1916.1 C1651.1,1915.5 1663.6,1903.9 1674.3,1901.8 C1685.0,1899.7 1698.1,1903.3 1702.9,1903.6" stroke="#9467bd" stroke-width="11.0"/>
<path d="M1713.6,1902.0 C1717.5,1900.8 1730.0,1894.6 1736.8,1894.6 C1743.6,1894.6 1750.1,1901.0 1754.6,1901.8 C1759.1,1902.5 1761.0,1899.6 1763.6,1899.1 C1766.2,1898.6 1768.9,1899.0 1770.0,1899.0" stroke="#9467bd" stroke-width="11.0"/>
</g>
<rect x="215" y="1112.8" width="1550" height="840" fill="none" stroke="#000" stroke-width="2.35"/>
<line x1="223.00" y1="1952.8" x2="223.00" y2="1962.50" stroke="#000" stroke-width="2.35"/>
<text transform="translate(150.34,1998.70) scale(1.0515,1)" x="-1.30 18.87 38.43 49.72 69.51 88.42 100.77 120.94" y="0" font-size="37.17" fill="#000" stroke="#000">08/04-00</text>
<line x1="417.40" y1="1952.8" x2="417.40" y2="1962.50" stroke="#000" stroke-width="2.35"/>
<text transform="translate(344.74,1998.70) scale(1.0516,1)" x="-1.31 18.96 38.42 49.71 69.50 88.41 100.75 120.92" y="0" font-size="37.17" fill="#000" stroke="#000">09/04-00</text>
<line x1="611.80" y1="1952.8" x2="611.80" y2="1962.50" stroke="#000" stroke-width="2.35"/>
<text transform="translate(540.07,1998.70) scale(1.0380,1)" x="-3.83 17.43 37.19 48.68 68.73 87.84 100.39 120.82" y="0" font-size="37.17" fill="#000" stroke="#000">10/04-00</text>
<line x1="806.20" y1="1952.8" x2="806.20" y2="1962.50" stroke="#000" stroke-width="2.35"/>
<text transform="translate(734.47,1998.70) scale(1.0233,1)" x="-3.75 16.98 37.80 49.51 69.85 89.19 101.96 122.69" y="0" font-size="37.17" fill="#000" stroke="#000">11/04-00</text>
<line x1="1000.60" y1="1952.8" x2="1000.60" y2="1962.50" stroke="#000" stroke-width="2.35"/>
<text transform="translate(928.87,1998.70) scale(1.0359,1)" x="-3.82 17.21 37.27 48.80 68.89 88.03 100.61 121.09" y="0" font-size="37.17" fill="#000" stroke="#000">12/04-00</text>
<line x1="1195.00" y1="1952.8" x2="1195.00" y2="1962.50" stroke="#000" stroke-width="2.35"/>
<text transform="translate(1123.27,1998.70) scale(1.0363,1)" x="-3.83 17.35 37.26 48.77 68.85 87.99 100.57 121.03" y="0" font-size="37.17" fill="#000" stroke="#000">13/04-00</text>
<line x1="1389.40" y1="1952.8" x2="1389.40" y2="1962.50" stroke="#000" stroke-width="2.35"/>
<text transform="translate(1317.67,1998.70) scale(1.0391,1)" x="-3.84 17.02 37.14 48.62 68.65 87.74 100.27 120.68" y="0" font-size="37.17" fill="#000" stroke="#000">14/04-00</text>
<line x1="1583.80" y1="1952.8" x2="1583.80" y2="1962.50" stroke="#000" stroke-width="2.35"/>
<text transform="translate(1512.07,1998.70) scale(1.0364,1)" x="-3.83 17.25 37.25 48.77 68.85 87.99 100.56 121.02" y="0" font-size="37.17" fill="#000" stroke="#000">15/04-00</text>
<line x1="205.30" y1="1939.00" x2="215" y2="1939.00" stroke="#000" stroke-width="2.35"/>
<text transform="translate(144.70,1951.90) scale(1.0565,1)" x="-1.34 18.37 28.76" y="0" font-size="37.17" fill="#000" stroke="#000">0.0</text>
<line x1="205.30" y1="1762.00" x2="215" y2="1762.00" stroke="#000" stroke-width="2.35"/>
<text transform="translate(145.76,1774.90) scale(1.0501,1)" x="-1.29 18.51 28.73" y="0" font-size="37.17" fill="#000" stroke="#000">0.2</text>
<line x1="205.30" y1="1585.00" x2="215" y2="1585.00" stroke="#000" stroke-width="2.35"/>
<text transform="translate(144.16,1597.90) scale(1.0591,1)" x="-1.36 18.31 28.29" y="0" font-size="37.17" fill="#000" stroke="#000">0.4</text>
<line x1="205.30" y1="1408.00" x2="215" y2="1408.00" stroke="#000" stroke-width="2.35"/>
<text transform="translate(144.59,1420.90) scale(1.0550,1)" x="-1.33 18.40 28.64" y="0" font-size="37.17" fill="#000" stroke="#000">0.6</text>
<line x1="205.30" y1="1231.00" x2="215" y2="1231.00" stroke="#000" stroke-width="2.35"/>
<text transform="translate(144.73,1243.90) scale(1.0547,1)" x="-1.33 18.41 28.83" y="0" font-size="37.17" fill="#000" stroke="#000">0.8</text>
<text transform="translate(121.60,1791.80) rotate(-90) scale(1.1232,1)" x="-2.24 28.18 50.89 65.59 99.44 118.98 130.25 141.20 160.40 180.44 202.12 213.72 226.87 247.44 268.69 281.61 305.13 320.77 340.02 350.58 371.91 391.44 403.24 425.85" y="0" font-size="43.36" fill="#000" stroke="#000">Normalized feature value</text>
<g><line x1="95.55" y1="1280.30" x2="90.45" y2="1280.30" stroke="#000" stroke-width="0.75" stroke-linecap="round"/><circle cx="91.88" cy="1280.30" r="0.95" fill="#000"/><line x1="95.55" y1="1280.30" x2="100.65" y2="1280.30" stroke="#000" stroke-width="0.75" stroke-linecap="round"/><circle cx="99.22" cy="1280.30" r="0.95" fill="#000"/><line x1="95.55" y1="1280.30" x2="93.00" y2="1284.72" stroke="#000" stroke-width="0.75" stroke-linecap="round"/><circle cx="93.71" cy="1283.48" r="0.95" fill="#000"/><line x1="95.55" y1="1280.30" x2="93.00" y2="1275.88" stroke="#000" stroke-width="0.75" stroke-linecap="round"/><circle cx="93.71" cy="1277.12" r="0.95" fill="#000"/><line x1="95.55" y1="1280.30" x2="98.10" y2="1284.72" stroke="#000" stroke-width="0.75" stroke-linecap="round"/><circle cx="97.39" cy="1283.48" r="0.95" fill="#000"/><line x1="95.55" y1="1280.30" x2="98.10" y2="1275.88" stroke="#000" stroke-width="0.75" stroke-linecap="round"/><circle cx="97.39" cy="1277.12" r="0.95" fill="#000"/></g>
<text transform="translate(754.00,2043.90) scale(1.0877,1)" x="-1.70 23.38 35.06 69.70 88.94 101.00 115.76 139.15 160.96 174.74 195.03 207.21 240.90 263.16 286.99 300.80 321.73 335.90 357.95 380.13 404.31 419.54" y="0" font-size="43.36" fill="#000" stroke="#000">Time (date/month-hour)</text>
<rect x="1372.8" y="1132.2" width="374.1" height="251.0" rx="7" ry="7" fill="#fff" fill-opacity="0.8" stroke="#d6d6d6" stroke-width="2.8"/>
<circle cx="1418.4" cy="1157.50" r="5.53" fill="#1f77b4"/>
<text transform="translate(1478.10,1168.80) scale(1.0297,1)" x="-0.88 21.16 47.25 69.68 97.54 116.03 132.57" y="0" font-size="37.10" fill="#1f77b4" stroke="#1f77b4">TOTUSJH</text>
<circle cx="1418.4" cy="1206.25" r="5.53" fill="#ff7f0e"/>
<text transform="translate(1478.10,1217.55) scale(1.0363,1)" x="-0.95 20.94 46.88 69.15 96.85 115.24 131.06" y="0" font-size="37.10" fill="#ff7f0e" stroke="#ff7f0e">TOTUSJZ</text>
<circle cx="1418.4" cy="1255.00" r="5.53" fill="#2ca02c"/>
<text transform="translate(1479.34,1266.30) scale(1.0093,1)" x="-1.00 27.37 50.40 72.55 92.50 118.08" y="0" font-size="37.10" fill="#2ca02c" stroke="#2ca02c">USFLUX</text>
<circle cx="1418.4" cy="1303.75" r="5.53" fill="#d62728"/>
<text transform="translate(1479.61,1315.05) scale(0.9707,1)" x="-0.49 23.27 40.21 62.62 89.58 110.42 139.42" y="0" font-size="37.10" fill="#d62728" stroke="#d62728">R_VALUE</text>
<circle cx="1418.4" cy="1352.50" r="5.53" fill="#9467bd"/>
<text transform="translate(1478.10,1363.80) scale(1.0010,1)" x="-0.58 22.15 48.93 68.23 93.76 119.28 140.66 162.78 197.73 211.68 233.06" y="0" font-size="37.10" fill="#9467bd" stroke="#9467bd">TOTABSTWIST</text>
<g><line x1="149.40" y1="2096.00" x2="149.40" y2="2091.00" stroke="#000" stroke-width="0.75" stroke-linecap="round"/><circle cx="149.40" cy="2092.40" r="0.95" fill="#000"/><line x1="149.40" y1="2096.00" x2="149.40" y2="2101.00" stroke="#000" stroke-width="0.75" stroke-linecap="round"/><circle cx="149.40" cy="2099.60" r="0.95" fill="#000"/><line x1="149.40" y1="2096.00" x2="145.07" y2="2093.50" stroke="#000" stroke-width="0.75" stroke-linecap="round"/><circle cx="146.28" cy="2094.20" r="0.95" fill="#000"/><line x1="149.40" y1="2096.00" x2="153.73" y2="2093.50" stroke="#000" stroke-width="0.75" stroke-linecap="round"/><circle cx="152.52" cy="2094.20" r="0.95" fill="#000"/><line x1="149.40" y1="2096.00" x2="145.07" y2="2098.50" stroke="#000" stroke-width="0.75" stroke-linecap="round"/><circle cx="146.28" cy="2097.80" r="0.95" fill="#000"/><line x1="149.40" y1="2096.00" x2="153.73" y2="2098.50" stroke="#000" stroke-width="0.75" stroke-linecap="round"/><circle cx="152.52" cy="2097.80" r="0.95" fill="#000"/></g>
<text transform="translate(162.50,2121.30) scale(1.1184,1)" x="-2.03 26.32 47.49 61.24 92.77 110.98 121.49 131.72 149.69 169.49 181.06 191.29 211.39 231.52 241.88 252.90 268.57 279.42 299.62 319.72 340.74 358.61 368.98 396.96 408.70 421.06 441.19 452.95 467.55 486.56 503.08 523.89 542.50 561.71 572.90 584.95 596.42 616.55 627.63 639.99 660.78 678.65 689.30 720.77 739.95 758.91 779.04 789.86 801.16 812.54 832.56 846.37 857.26 877.86 897.15 909.35 926.96 938.34 957.42 973.99 989.66 999.35 1019.24 1037.44 1048.46 1069.54" y="0" font-size="40.26" fill="#000" stroke="#000">Normalization is done with respect to the mean flaring-class value</text>
<text transform="translate(61.20,2192.80) scale(1.0761,1)" x="-1.02 17.33 26.64 44.92 54.38 64.60 83.09 99.74 118.18 135.66 148.64 165.93 176.09 185.24 202.92 219.95 230.83 240.99 250.36 277.80 293.94 303.40 312.71 331.01 348.84 366.98 384.96 394.23 411.96 430.11 438.63 457.29 473.59 489.71 507.78 525.43 535.07 553.27 571.13 580.36 599.27 616.30 625.67 637.29 655.46" y="0" font-size="34.07" fill="#000" stroke="#000">Plot generation time: 2026.04.16_08:45:19 IST</text>
<circle cx="1646.6" cy="2154.5" r="52.4" fill="url(#sung)"/>
<g clip-path="url(#sun)"><rect x="1590" y="2098" width="114" height="114" filter="url(#turbR)"/><rect x="1590" y="2098" width="114" height="114" filter="url(#turbY)"/></g>
<text transform="translate(1608.60,2166.40) scale(1.1163,1)" x="-1.53 15.21 32.33 47.25 61.58" y="0" font-size="36.70" fill="#fff" stroke="#fff">cessi</text>
<text transform="translate(1524.20,2242.60) scale(1.0567,1)" x="-0.53 27.50 55.52 79.99 90.48 109.33 128.56 145.36 161.37 172.18 182.25 193.49" y="0" font-size="39.13" fill="#000" stroke="#000">www.cessi.in</text>
</g></svg>
</body></html>
